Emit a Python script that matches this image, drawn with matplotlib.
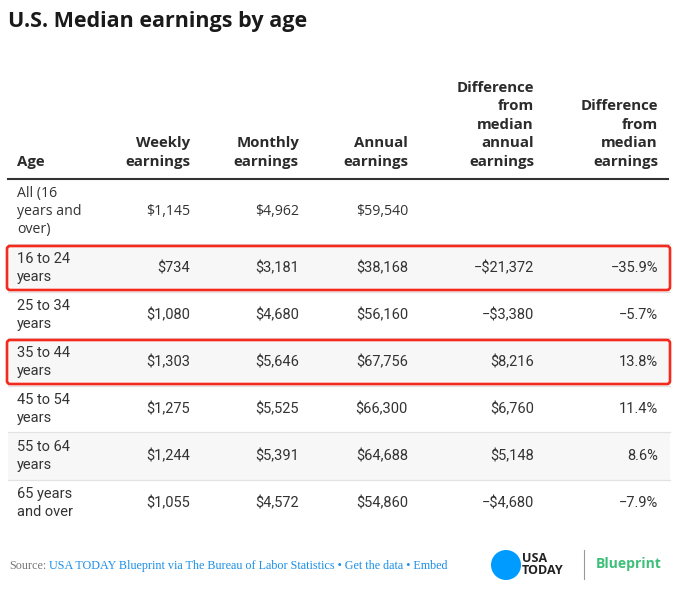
import matplotlib.pyplot as plt
from matplotlib.patches import FancyBboxPatch, Circle, Rectangle

# table data
ages = ['All (16\nyears and\nover)', '16 to 24\nyears', '25 to 34\nyears', '35 to 44\nyears',
        '45 to 54\nyears', '55 to 64\nyears', '65 years\nand over']
weekly = [1145, 734, 1080, 1303, 1275, 1244, 1055]
monthly = [4962, 3181, 4680, 5646, 5525, 5391, 4572]
annual = [59540, 38168, 56160, 67756, 66300, 64688, 54860]
diff_annual = [None, -21372, -3380, 8216, 6760, 5148, -4680]
diff_pct = [None, -35.9, -5.7, 13.8, 11.4, 8.6, -7.9]
highlighted = ['16 to 24\nyears', '35 to 44\nyears']

headers = ['Age', 'Weekly\nearnings', 'Monthly\nearnings', 'Annual\nearnings',
           'Difference\nfrom\nmedian\nannual\nearnings', 'Difference\nfrom\nmedian\nearnings']


def money(v):
    if v is None:
        return ''
    s = '${:,}'.format(abs(v))
    return '\u2212' + s if v < 0 else s


def pct(v):
    if v is None:
        return ''
    s = '{:.1f}%'.format(abs(v))
    return '\u2212' + s if v < 0 else s


HEAD_FONT = ['Open Sans', 'DejaVu Sans']
BODY_FONT = ['Roboto', 'DejaVu Sans']
SERIF = ['Liberation Serif', 'DejaVu Serif']

fig = plt.figure(figsize=(6.9, 5.91), dpi=100)
ax = fig.add_axes([0, 0, 1, 1])
ax.set_xlim(0, 690)
ax.set_ylim(591, 0)
ax.axis('off')

ax.text(8, 22, 'U.S. Median earnings by age', fontsize=15.5, fontweight='bold',
        family=HEAD_FONT, color='#1a1a1a', va='center', ha='left')

# column layout (pixels)
left, right = 8, 670
age_x = 17
col_x = [190, 299, 408, 534, 658]
edges = [179, 244, 292, 338, 386, 432, 480, 526]

for i, h in enumerate(headers):
    x = age_x if i == 0 else col_x[i - 1]
    ax.text(x, 169, h, fontsize=10.8, fontweight='bold', family=HEAD_FONT,
            color='#2b2b2b', ha='left' if i == 0 else 'right', va='bottom',
            linespacing=1.42, multialignment='left' if i == 0 else 'right')

for r in range(len(ages)):
    top, bot = edges[r], edges[r + 1]
    if r % 2 == 1:
        ax.add_patch(Rectangle((left, top), right - left, bot - top, color='#f7f7f7', lw=0, zorder=0))
    if 0 < r:
        ax.plot([left, right], [top, top], color='#e2e2e2', lw=0.9, zorder=1)
    cy = (top + bot) / 2
    font = HEAD_FONT if r == 0 else BODY_FONT
    fs = 10.2 if r == 0 else 10.5
    ax.text(age_x, cy, ages[r], fontsize=fs, family=font, color='#333333',
            ha='left', va='center', linespacing=1.3 if r == 0 else 1.4)
    vals = [money(weekly[r]), money(monthly[r]), money(annual[r]),
            money(diff_annual[r]), pct(diff_pct[r])]
    for x, v in zip(col_x, vals):
        ax.text(x, cy, v, fontsize=fs, family=font, color='#333333', ha='right', va='center')
    if ages[r] in highlighted:
        ax.add_patch(FancyBboxPatch((left - 1, top + 2), right - left + 1, bot - top - 4,
                                    boxstyle='round,pad=0,rounding_size=3', fill=False,
                                    edgecolor='#f42a1e', lw=1.9, zorder=5))

ax.plot([left, right - 2], [edges[0], edges[0]], color='#333333', lw=1.5, zorder=2)

# footer
ax.text(9, 566, 'Source:', fontsize=8.7, family=SERIF, color='#777777', va='center', ha='left')
ax.text(49, 566, 'USA TODAY Blueprint via The Bureau of Labor Statistics \u2022 Get the data \u2022 Embed',
        fontsize=8.7, family=SERIF, color='#1a8fe8', va='center', ha='left')
ax.add_patch(Circle((506, 565), 15, color='#009bff', lw=0))
ax.text(522, 565, 'USA\nTODAY', fontsize=9, fontweight='bold', family=HEAD_FONT,
        color='#222222', va='center', ha='left', linespacing=0.9)
ax.plot([584, 584], [550, 579], color='#999999', lw=0.8)
ax.text(596, 564, 'Blueprint', fontsize=10, fontweight='bold', family=HEAD_FONT,
        color='#3cbf78', va='center', ha='left')

fig.savefig('out.png', dpi=100)
